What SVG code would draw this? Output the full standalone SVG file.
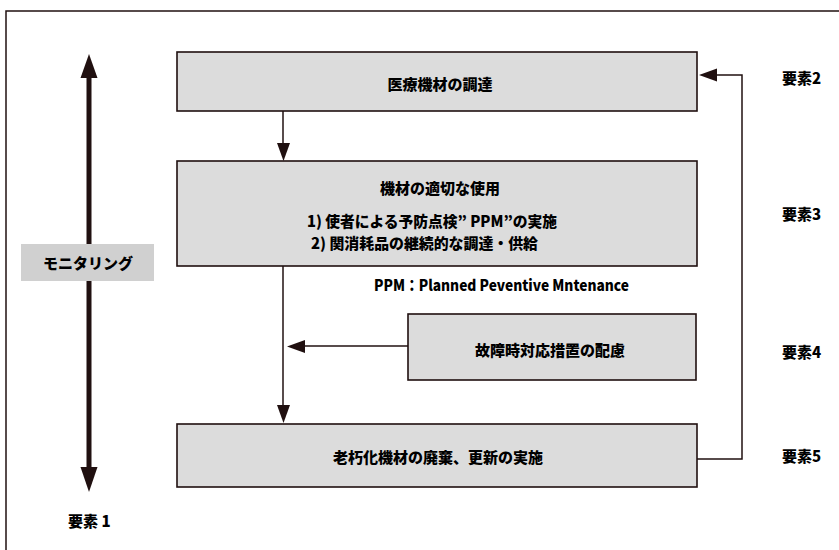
<svg xmlns="http://www.w3.org/2000/svg" width="839" height="550" viewBox="0 0 839 550">
<defs>
<style>
.box{fill:#dcdcdc;stroke:#201010;stroke-width:1.6}
.ln{fill:none;stroke:#201010;stroke-width:1.5}
.t{font-family:"Noto Sans CJK JP","Noto Sans CJK SC",sans-serif;font-weight:900;font-size:15px;fill:#000;dominant-baseline:central}
.c{text-anchor:middle}
.ah{fill:#201010}
</style>
</defs>
<rect x="6" y="11" width="900" height="600" fill="none" stroke="#201010" stroke-width="1.5"/>
<g id="connectors">
<path class="ln" d="M283 111 V144"/>
<polygon class="ah" points="277,143 290,143 283.5,161"/>
<path class="ln" d="M283 266 V406"/>
<polygon class="ah" points="277,405 290,405 283.5,423"/>
<path class="ln" d="M408 346 H304"/>
<polygon class="ah" points="305,340 305,353 287,346.5"/>
<path class="ln" d="M697 459 H742 V75 H716"/>
<polygon class="ah" points="717,68.5 717,81.5 699,75"/>
</g>
<g id="monitor-arrow">
<rect x="86.5" y="76" width="5" height="393" fill="#201010"/>
<polygon class="ah" points="89,54 80.5,78 97.5,78"/>
<polygon class="ah" points="89,492 80.5,467 97.5,467"/>
</g>
<g id="monitoring">
<rect x="21" y="244" width="133" height="37" fill="#d0d0d0"/>
<text class="t c" x="88" y="262.5">モニタリング</text>
</g>
<g id="node-procurement">
<rect class="box" x="177" y="52" width="520" height="59"/>
<text class="t c" x="440" y="83">医療機材の調達</text>
</g>
<g id="node-use">
<rect class="box" x="177" y="161" width="520" height="105"/>
<text class="t c" x="440" y="187">機材の適切な使用</text>
<text class="t" x="307" y="220" textLength="250" lengthAdjust="spacingAndGlyphs">1) 使者による予防点検” PPM”の実施</text>
<text class="t" x="311" y="242.5" textLength="227" lengthAdjust="spacingAndGlyphs">2) 関消耗品の継続的な調達・供給</text>
</g>
<text class="t" x="374" y="284" textLength="255" lengthAdjust="spacingAndGlyphs">PPM：Planned Peventive  Mntenance</text>
<g id="node-failure">
<rect class="box" x="408" y="314" width="288" height="66"/>
<text class="t c" x="550" y="349">故障時対応措置の配慮</text>
</g>
<g id="node-renewal">
<rect class="box" x="177" y="424" width="520" height="63"/>
<text class="t c" x="438" y="456">老朽化機材の廃棄、更新の実施</text>
</g>
<g id="labels">
<text class="t" x="782" y="77">要素2</text>
<text class="t" x="782" y="213">要素3</text>
<text class="t" x="782" y="351">要素4</text>
<text class="t" x="782" y="455">要素5</text>
<text class="t" x="68" y="520">要素 1</text>
</g>
</svg>
